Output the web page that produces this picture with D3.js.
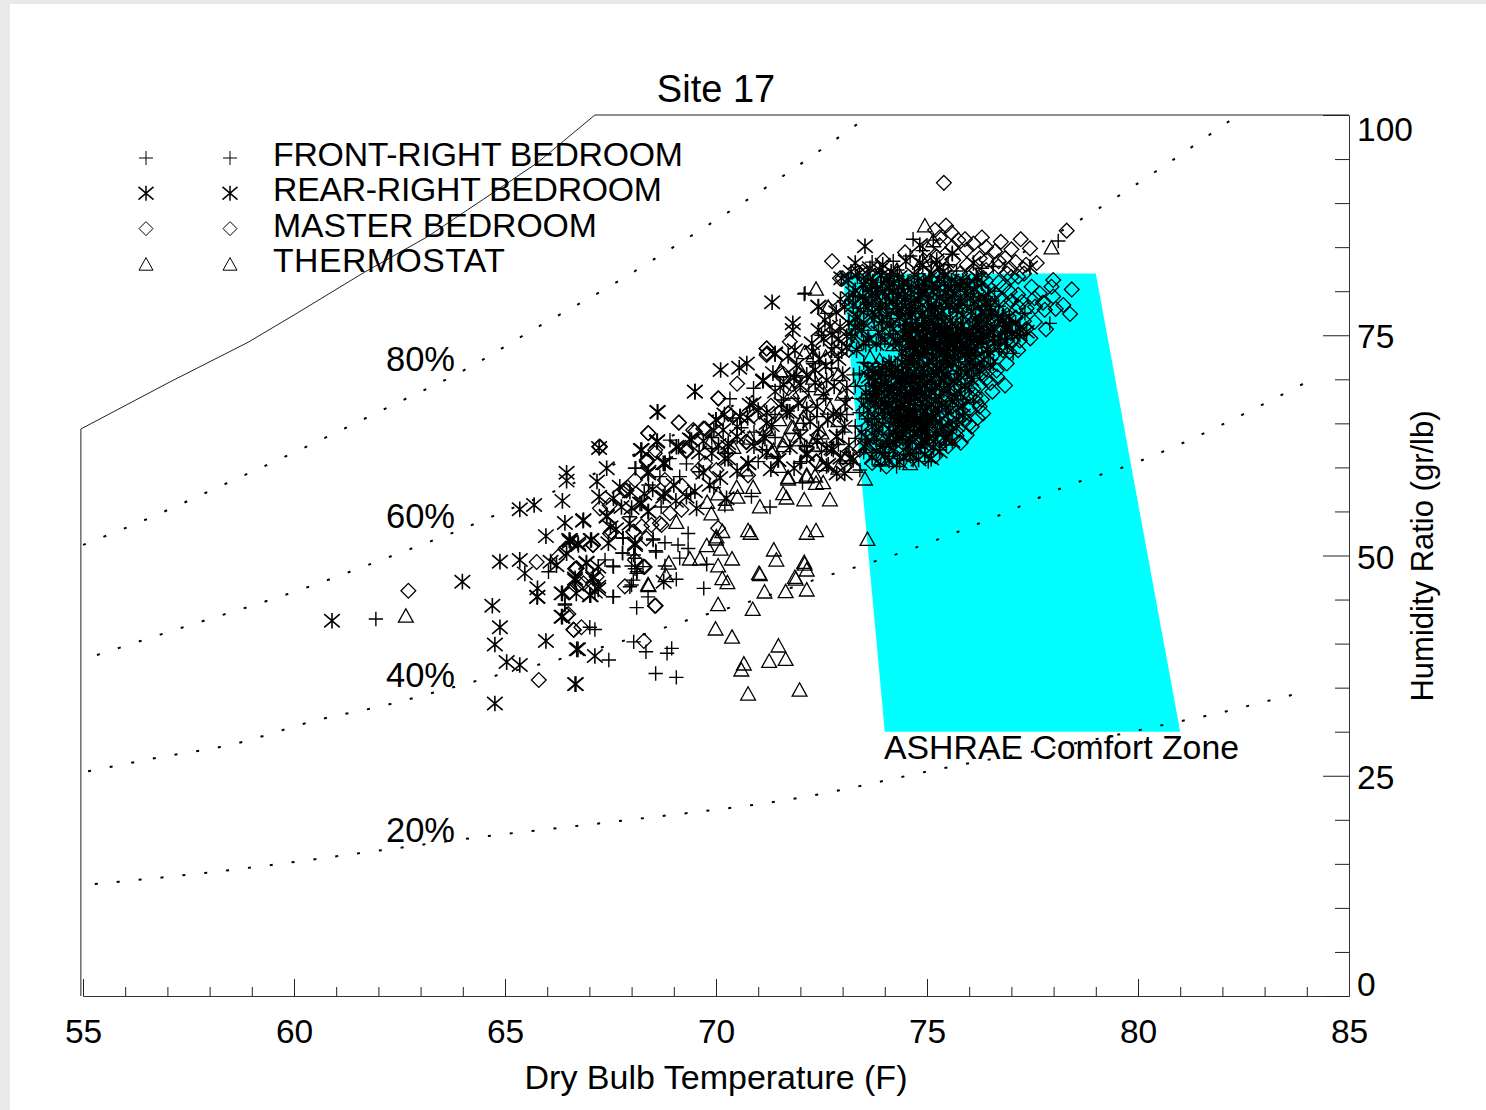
<!DOCTYPE html>
<html>
<head>
<meta charset="utf-8">
<script src="https://cdnjs.cloudflare.com/ajax/libs/d3/7.8.5/d3.min.js"></script>
<style>
body { margin: 0; background: #e9e9e9; }
svg { display: block; }
text { font-family: "Liberation Sans", Arial, sans-serif; fill: #000; }
</style>
</head>
<body>
<script>
// chart values
const xMajorTicks = [55, 60, 65, 70, 75, 80, 85];
const xMinorTicks = [56, 57, 58, 59, 61, 62, 63, 64, 66, 67, 68, 69, 71, 72, 73, 74, 76, 77, 78, 79, 81, 82, 83, 84];
const yMajorTicks = [0, 25, 50, 75, 100];
const yMinorTicks = [5, 10, 15, 20, 30, 35, 40, 45, 55, 60, 65, 70, 80, 85, 90, 95];

const legendLabels = ["FRONT-RIGHT BEDROOM", "REAR-RIGHT BEDROOM", "MASTER BEDROOM", "THERMOSTAT"];

const comfortZone = [[73, 82], [79, 82], [81, 30], [74, 30]];

const saturationLine = [[54.95, 0], [54.95, 64.36], [57.06, 69.7], [58.91, 74.2], [60, 77.3], [61.64, 82.07],
  [63.15, 86.15], [64.46, 90.35], [65.76, 94.55], [67.13, 100], [85, 100]];

const rh80 = [[55, 51.2], [56.35, 53.8], [58.36, 58.1], [60.43, 62.66], [62.39, 67.2], [63.86, 70.6], [65.73, 75.8],
  [67.6, 80.9], [69.45, 86.4], [71.52, 92.85], [73.55, 99.66]];
const rh60 = [[55.33, 38.7], [57.01, 41.3], [60.14, 46.1], [62.68, 50.6], [63.67, 52.4], [65.19, 55.4], [66.23, 57.4],
  [69.62, 65.15], [73.18, 73.78], [75.78, 80.48], [78.74, 88.42], [82.37, 100]];
const rh40 = [[55.12, 25.5], [56.82, 27.1], [58.48, 28.5], [60.62, 31.4], [62.16, 33], [63.2, 34.3], [64.81, 36.4],
  [66.42, 38.4], [68, 40.6], [69.55, 43], [70.62, 44.5], [72.7, 47.8], [73.74, 49.3], [76.73, 54.6], [78.27, 57.8],
  [79.81, 60.3], [83.96, 69.6]];
const rh20 = [[55.28, 12.7], [58.13, 14.1], [62.16, 16.6], [64.17, 17.9], [67.96, 20], [71.99, 22.5], [75.54, 26],
  [77.68, 27.9], [79.86, 30], [80.92, 31.1], [81.99, 32.2], [83.08, 33.5], [83.67, 34.2]];

const plusPoints = [[61.94, 42.8], [69.06, 36.17], [68.57, 36.6], [67.46, 38.14], [68.34, 39.08], [68.84, 38.9], [68.95, 39.46],
  [68.05, 40.2], [67.13, 41.6], [67.01, 41.85], [68.12, 44.08], [67.56, 45.3], [66.42, 44.5], [68.39, 45.3], [69.71, 46.27],
  [69.06, 47.3], [67.96, 46.46], [68.04, 47.2], [68.13, 48.16], [68.79, 48.8], [69.78, 49], [68.27, 48.74], [67.56, 48.8],
  [67.37, 49.5], [68, 48.8], [68.05, 50.06], [67.78, 50.3], [68.57, 50.55], [68.79, 51.45], [69.1, 51.2], [69.14, 49.7],
  [69.34, 50.8], [69.34, 52.5], [68.51, 51.76], [67.8, 51.95], [69.95, 57.7], [70.21, 55.7], [70.84, 56.7], [71.28, 55.5],
  [72.05, 58.27], [70.33, 67.8], [68.08, 59.9], [68.91, 63.1], [68.67, 58.95], [69.14, 58.95], [71.99, 60.46], [71, 60.65],
  [72.1, 62.5], [68.1, 59.9], [67.96, 54.4], [67.79, 52], [68.51, 51.87], [68.58, 50.4], [67.79, 50.25], [67.57, 48.73],
  [68.08, 49.68], [68.08, 48.5], [68.12, 47.97], [68, 46.65], [67.57, 45.33], [66.42, 44.38], [66.03, 48.16],
  [72.11, 79.76], [72, 60.65], [72.15, 62.35], [71.52, 69.2], [71.6, 67.65], [70.89, 68.98], [72.07, 65], [72.39, 65.76],
  [73.1, 67.84], [73.26, 70.5], [72.74, 71.25], [72.09, 79.67], [72.03, 60.65], [71.4, 63.4], [70.6, 64.5], [70.2, 61.6],
  [78.11, 85.7], [74.67, 85.9], [75.15, 85.8], [76.57, 82.8], [76.1, 79.4], [74.9, 84.6], [75.6, 84.2],
  [73.35, 81.6], [73.9, 81], [74.3, 82.4], [74.8, 82], [75.3, 81], [75.7, 82.3], [76.3, 82.6],
  [73.3, 79.4], [73.8, 80.4], [74.4, 79.2], [74.95, 80.2], [75.4, 79.3], [76.6, 80],
  [73.5, 77.7], [74.1, 78], [74.6, 77.5], [75.2, 78], [75.7, 77.6], [76.3, 77.9], [76.8, 77.3], [77.32, 77.5], [77.91, 76.35],
  [73.4, 76.2], [73.95, 76.5], [74.45, 76.1], [74.9, 76.4], [75.35, 76], [75.8, 76.4], [76.3, 76], [76.8, 76.1], [77.2, 75],
  [73.6, 74.9], [74.3, 74.7], [74.8, 74.8], [75.3, 74.9], [75.8, 74.6], [76.4, 74.8], [76.9, 74.6],
  [74.5, 73.4], [75, 73.6], [75.5, 73.3], [76, 73.5], [76.5, 73.2], [77.04, 72.94],
  [73.5, 71.9], [74.1, 72], [74.7, 71.9], [75.3, 72.1], [75.9, 72], [76.57, 71.8],
  [73.4, 70.7], [73.9, 70.5], [74.4, 70.8], [75.1, 70.6], [75.7, 70.6], [76.06, 70.1],
  [73.3, 69.2], [73.8, 69.3], [74.3, 69.1], [74.9, 69.4], [75.5, 69.2], [76, 69],
  [73.45, 67.8], [74, 67.9], [74.6, 67.7], [75.2, 67.9], [75.7, 67.7], [76.1, 67.4],
  [73.4, 66.2], [74, 66.1], [74.6, 66.2], [75.3, 66.3], [75.9, 66],
  [73.3, 64.7], [73.8, 64.8], [74.4, 64.6], [75, 64.8], [75.6, 64.6],
  [73.3, 63.3], [73.8, 63.1], [74.35, 63.2], [75, 63.1], [75.46, 62.54], [75.3, 62],
  [73.5, 61.7], [74, 61.7], [74.5, 61.5], [75.03, 60.65], [74.28, 60.1], [74.67, 60.84], [73.41, 59.7], [73.9, 60.3],
  [74.52, 75.3], [74.9, 75.5], [75.18, 75.2], [75.48, 75.6], [75.72, 75], [76, 75.8], [74.7, 74], [75, 74.4], [75.4, 74], [75.7, 74.2],
  [74.6, 72.7], [75.1, 72.9], [75.55, 72.7], [75.95, 72.9], [73.78, 70], [74.1, 70.4], [74.55, 70.3], [74.8, 69.6], [74.05, 68.7],
  [74.4, 68.2], [74.75, 68.5], [73.9, 67], [74.3, 67.4], [74.7, 67.1], [74.15, 65.6], [74.55, 65.2], [74.9, 66], [74.25, 64], [74.7, 64.2],
  [74.5, 62.8], [74.85, 62.2], [73.55, 80.9], [74, 79.7], [74.55, 80.6], [75, 79.4], [75.55, 80.7], [75.95, 78.4], [73.7, 78.3],
  [74.3, 77.4], [74.85, 77.7], [75.4, 77.2], [73.2, 75],
  [72.5, 75], [72.8, 73.6], [72.3, 71.8], [71.9, 70.4], [72.6, 67.8], [72.2, 68.6], [71.7, 66.4], [71.4, 66], [70.9, 64], [70.4, 65.6],
  [69.9, 63.4], [71.1, 62], [72.5, 61.8], [72.9, 62.6], [73, 64], [73.1, 66], [69.6, 59.5], [69.3, 60.4], [68.9, 61], [68.4, 58],
  [68.7, 55.5], [69.4, 57],
  [73.7, 83.3], [74.2, 83.4], [74.6, 84], [75.1, 83.3], [75.5, 83], [76, 81], [76.4, 79], [76.7, 78.3], [76.4, 77.2], [76.9, 75.4],
  [76.5, 75.6], [76.2, 74.2], [76.7, 74], [76.3, 71.5], [76, 71], [75.4, 71.4], [75.8, 69.4], [75.3, 68.8], [75.55, 66.9], [75.2, 65.2],
  [75.45, 64], [74.15, 76.9], [74.65, 76.3], [75.1, 77.1], [75.55, 78], [74.2, 74], [73.55, 73.9], [73.9, 74], [73.65, 68.6], [73.6, 65.5],
  [73.95, 62.4], [74.3, 61], [74.75, 61.6], [75, 64], [74.6, 63.5], [74.1, 63]];

const starPoints = [[60.9, 42.6], [63.99, 47.03], [64.7, 44.3], [64.88, 41.85], [64.76, 39.9], [65.04, 37.9], [65.35, 37.57],
  [64.76, 33.2], [64.88, 49.3], [65.35, 49.5], [65.47, 47.97], [65.35, 55.24], [65.69, 55.73], [66.36, 56.2], [66.46, 59.4],
  [66.46, 58.5], [66.42, 53.7], [65.97, 52.2], [66.46, 50.25], [66.22, 48.9], [65.77, 46.27], [65.76, 45.3], [66.36, 45.7],
  [66.36, 43.06], [65.97, 40.3], [66.7, 39.35], [66.66, 35.4], [66.66, 47.4], [66.54, 51.57], [66.68, 35.4], [67.13, 38.6],
  [66.73, 39.35], [66.34, 43.06], [68.76, 47.03], [67.21, 46.16], [67.03, 45.5], [66.66, 47.2], [67.09, 47.6], [66.93, 49.2],
  [66.73, 51.4], [66.54, 51.76], [66.85, 53.95], [67.03, 51.76], [67.45, 51.4], [68.08, 51.4], [67.63, 52.97], [67.41, 54.5],
  [67.23, 56.68], [67.18, 58.4], [67.41, 59.9], [67.23, 62.2], [69.5, 68.6], [68.61, 66.3], [68.22, 61.97], [68.61, 63],
  [69.06, 62.35], [70, 65.4], [69.38, 63.2], [68.79, 60.46], [68.39, 59.3], [69.7, 59.4], [67.72, 57.8], [67.76, 55.5],
  [68.2, 55.9], [68.39, 55], [68.79, 57.06], [69.3, 56.68], [69.54, 55.35], [70.25, 56.5], [70.21, 61], [70.29, 62.35],
  [70.76, 60.46], [71.47, 60.84], [72.15, 61.4], [72.62, 60.16], [72.86, 59.3], [73.25, 60.84], [73.53, 62.35], [73.05, 59.3],
  [71.67, 66.3], [71.2, 65], [70.8, 67.1], [70.57, 65.76], [71.12, 63.5], [72.86, 63.5], [72.62, 62.2], [72.78, 62],
  [67.05, 51.76], [67.57, 56.5], [67.96, 57.25], [68.24, 55.9], [68.4, 54.98], [68.4, 59.5], [68.75, 60.46], [68.75, 56.68],
  [68.08, 51.2], [66.08, 49.3], [67.21, 48.73], [67.09, 47.4], [67.21, 46.46], [67.13, 45.9], [66.34, 45.7], [66.69, 45.7],
  [67.01, 45.5], [65.77, 45.33], [68.24, 61.97], [66.86, 54.03], [67.41, 54.4], [66.52, 51.76], [66.74, 51.2], [66.93, 49.11],
  [71.33, 78.74], [71.82, 76.36], [71.82, 75.6], [72.43, 78.25], [70.11, 71.06], [70.55, 71.3], [70.73, 71.8], [71.11, 69.8],
  [69.5, 68.6], [68.62, 66.3], [71.4, 72.84], [71.71, 72.65], [71.91, 71.6], [72.35, 71.06], [72.58, 76.73], [72.43, 75.6],
  [72.27, 74.1], [72.74, 73.3], [71.87, 73.3], [72, 69.36], [71.4, 68.6], [70.89, 67.27], [70.57, 65.76], [70, 65.4],
  [70.17, 64.25], [70.06, 62.55], [70.29, 62.74], [69.42, 63.1], [69.11, 62.35], [68.6, 62.9], [68.79, 60.46], [70.29, 61],
  [70.77, 60.46], [71.48, 60.84], [71.16, 63.3], [71.32, 64.8], [71.75, 66.3], [72.23, 65.2], [72.43, 64.4], [72.86, 63.5],
  [72.15, 61.6], [72.74, 62.15], [73.18, 61], [72.66, 60.3], [72.78, 66.1], [73.06, 67.27], [72.62, 69.9], [73.33, 73.3],
  [73.14, 81.27], [73.25, 79.76], [72.94, 75.98], [73.53, 85.1], [72.42, 78.24], [77.44, 82.7], [74.83, 85.24], [74.83, 83.2],
  [73.88, 82.4], [72.97, 81.46], [75.23, 83.54], [76.17, 81.65], [71.12, 69.9], [71.4, 72.95], [75.6, 84.3], [76.1, 83.2],
  [73.3, 83.2], [73.95, 83], [74.5, 83.4], [74.9, 83], [75.3, 82.7],
  [73.6, 81.9], [74.05, 81.2], [74.35, 81.6], [74.7, 81.9], [75.05, 81.4], [75.4, 81.7], [75.85, 81.2], [76.2, 81.5],
  [73.3, 80.1], [73.7, 79.8], [74.1, 80.4], [74.45, 80], [74.8, 80.5], [75.15, 79.9], [75.5, 80.2], [75.9, 79.8],
  [73.25, 78.4], [73.55, 78.9], [73.9, 78.3], [74.2, 78.8], [74.5, 78.3], [74.8, 78.9], [75.1, 78.4], [75.45, 78.8], [75.75, 78.3], [76.1, 78.6], [76.5, 78.2],
  [73.35, 77.1], [73.75, 76.8], [74.05, 77.3], [74.35, 76.9], [74.65, 77.4], [74.95, 76.8], [75.25, 77.2], [75.55, 76.7], [75.85, 77.3], [76.15, 76.9], [76.45, 77.2], [76.8, 76.7], [77.1, 76.4],
  [73.45, 75.6], [73.85, 75.3], [74.2, 75.7], [74.5, 75.3], [74.75, 75.8], [75, 75.4], [75.25, 75.8], [75.5, 75.3], [75.75, 75.7], [76, 75.2], [76.25, 75.6], [76.55, 75.3], [76.85, 75.6], [77.15, 75.1], [77.36, 75.4],
  [73.5, 74.2], [74.35, 74.1], [74.6, 74.4], [74.85, 73.9], [75.1, 74.3], [75.3, 73.8], [75.55, 74.2], [75.8, 73.9], [76.05, 74.3], [76.3, 73.8], [76.6, 74.1], [76.9, 73.7],
  [74.4, 72.9], [74.65, 72.5], [74.9, 73], [75.15, 72.6], [75.4, 73], [75.65, 72.5], [75.9, 72.9], [76.15, 72.5], [76.45, 72.8],
  [73.6, 71.2], [73.95, 71.5], [74.25, 71.1], [74.5, 71.6], [74.75, 71.2], [75, 71.7], [75.25, 71.1], [75.5, 71.5], [75.8, 71.2], [76.1, 71.4],
  [73.7, 70.1], [74, 69.7], [74.25, 70.3], [74.5, 69.8], [74.75, 70.2], [75, 69.7], [75.3, 70.1], [75.65, 69.8],
  [73.55, 68.5], [73.85, 68.9], [74.1, 68.4], [74.35, 68.8], [74.6, 68.3], [74.85, 68.9], [75.1, 68.5], [75.4, 68.8], [75.8, 68.4],
  [73.5, 67.1], [73.85, 66.8], [74.1, 67.3], [74.35, 66.9], [74.6, 67.3], [74.85, 66.8], [75.1, 67.2], [75.45, 66.8], [75.85, 67],
  [73.6, 65.4], [73.95, 65.7], [74.25, 65.3], [74.5, 65.7], [74.75, 65.3], [75, 65.6], [75.3, 65.2], [75.7, 65.5],
  [73.45, 64], [73.85, 64.3], [74.2, 63.9], [74.45, 64.3], [74.7, 63.8], [74.95, 64.2], [75.25, 63.9], [75.6, 64.1],
  [73.55, 62.6], [73.9, 62.3], [74.25, 62.7], [74.55, 62.4], [74.85, 62.7], [75.15, 62.3],
  [73.7, 61.1], [74.1, 60.8], [74.45, 61.2], [74.8, 60.9],
  [74.6, 75.1], [74.9, 74.6], [75.2, 75.1], [75.45, 74.6], [75.7, 75], [75.95, 74.5], [74.7, 73.2], [75.3, 73.3], [75.8, 73.2],
  [73.9, 70.4], [74.15, 69.2], [74.4, 70], [74.65, 69.1], [74.9, 70.6], [73.8, 67.9], [74.2, 68], [74.55, 67.6], [74.85, 68.1],
  [74.4, 65], [74.65, 65.9], [74.9, 64.9], [74.35, 63.5], [74.6, 64.4], [74.85, 63.6], [75.05, 65],
  [74.45, 75.9], [74.55, 74.8], [74.62, 76], [74.72, 74.2], [74.8, 75.2], [74.88, 76.1], [74.98, 74.9], [75.05, 76], [75.12, 73.7],
  [75.18, 74.8], [75.27, 76.1], [75.33, 74.5], [75.41, 75.6], [75.47, 73.6], [75.58, 75.1], [75.63, 73.9], [75.68, 76], [75.72, 74.5],
  [75.88, 75.4], [75.92, 73.6], [76.02, 74.8], [76.08, 75.9], [76.12, 73.4], [76.18, 74.7], [74.5, 72.2], [74.6, 71.8], [74.82, 72.3],
  [75.05, 72.1], [75.22, 72.3], [75.46, 72.1], [75.6, 71.8], [75.75, 72.1], [76.02, 72], [74.68, 73.7], [74.95, 73.4], [75.22, 73.5],
  [75.5, 72.9], [75.72, 73.3], [75.98, 73.1],
  [73.7, 71], [73.78, 69.8], [73.85, 70.9], [73.92, 69.4], [74.03, 70.7], [74.08, 69.1], [74.18, 70.8], [74.2, 68.6], [74.3, 71.3],
  [74.36, 69.6], [74.44, 70.6], [74.48, 68.9], [74.55, 71], [74.62, 69.5], [74.7, 70.8], [74.78, 68.7], [74.83, 69.9], [74.92, 71.2],
  [74.95, 68.4], [73.72, 68.2], [73.78, 67.2], [73.92, 67.7], [73.98, 66.4], [74.08, 67], [74.15, 66.2], [74.28, 67.6], [74.32, 66.3],
  [74.46, 67.1], [74.52, 66.1], [74.68, 66.9], [74.72, 68], [74.9, 67.4], [74.95, 66.3],
  [74.22, 65.7], [74.3, 64.5], [74.35, 65.9], [74.42, 63.4], [74.5, 64.8], [74.55, 65.5], [74.6, 63.2], [74.68, 64.9], [74.72, 66],
  [74.8, 64.3], [74.85, 65.5], [74.9, 63.1], [74.98, 64.7], [75.05, 63.4], [75.1, 65.6], [74.28, 63.1], [74.65, 62.9], [74.95, 62.8],
  [73.4, 82.1], [73.5, 80.8], [73.65, 82.6], [73.72, 81.1], [73.82, 80.2], [73.92, 81.8], [74.02, 79.4], [74.15, 82.2], [74.22, 80.9],
  [74.3, 79.6], [74.4, 78], [74.55, 81], [74.62, 79.3], [74.72, 77.9], [74.88, 79.7], [74.92, 81.1], [75.02, 77.9], [75.12, 80.8],
  [75.22, 78.9], [75.35, 77.8], [75.42, 80.9], [75.6, 79.4], [75.68, 81], [75.8, 78.9], [73.3, 75.9], [73.42, 77.9], [73.5, 76.4],
  [73.62, 74.5], [73.7, 77.6], [73.8, 74], [73.92, 76.6], [74, 74.5], [74.12, 76.1], [74.25, 74.3], [74.3, 77.9],
  [75.15, 70.9], [75.35, 71], [75.45, 70.4], [75.55, 69], [75.2, 69.2], [75.3, 68], [75.6, 67.5], [75.5, 66.2], [75.25, 66.6],
  [75.15, 65.7], [75.35, 64.6], [75.5, 65], [75.2, 63.2], [75.4, 63.4], [75.75, 66.8], [75.95, 70.7],
  [72.95, 79.1], [73.05, 78.2], [72.85, 77.6], [72.7, 76], [72.9, 74.6], [73.1, 74.9], [73.15, 76.4], [72.55, 74.6], [72.75, 75],
  [72.3, 73.1], [72.45, 72.3], [72.6, 71.5], [72.9, 72.3], [73, 70.6], [72.8, 69.2], [73.1, 69], [72.55, 68.3], [72.35, 69.6],
  [72.15, 70.5], [71.85, 70.2], [71.6, 69.4], [71.35, 70.7], [72.95, 66], [72.65, 65.4], [72.4, 66.9], [72.15, 66.6], [71.95, 67.3],
  [71.55, 67.2], [71.2, 66.2], [71, 66.5], [70.75, 65.6], [70.5, 64.6], [70.2, 66], [69.95, 64.2], [69.7, 63], [69.6, 61.7],
  [69.9, 61.6], [70.5, 63.5], [70.9, 62.4], [71.2, 61.7], [71.75, 62.3], [72, 63.5], [72.4, 63], [73.05, 64.6], [73.15, 62.5],
  [72.95, 61.1], [71.85, 59.9], [71.3, 59.8], [70.5, 59.6], [70.1, 58.8], [69.85, 58], [69.5, 57.3], [69.05, 56.2], [69, 58],
  [68.5, 57.5], [68.3, 57], [68, 55.4], [67.95, 53.6], [67.5, 53.2],
  [73.48, 79.4], [73.6, 78.1], [73.68, 80.6], [73.78, 79.1], [73.86, 77.7], [73.95, 80], [74.04, 78.4], [74.12, 81.7], [74.18, 79.9],
  [74.27, 78.2], [74.33, 80.4], [74.42, 81], [74.48, 79.2], [74.57, 77.7], [74.63, 80.2], [74.7, 78.6], [74.77, 81.2], [74.84, 79.4],
  [74.9, 77.5], [74.97, 80.9], [75.04, 79], [75.1, 82], [75.17, 78], [75.24, 80.5], [75.3, 79.2], [75.38, 82.2], [75.44, 79.8],
  [75.52, 78.3], [75.58, 81.2], [75.65, 79.8], [75.72, 77.9], [75.78, 80.8], [75.95, 80.6], [76.03, 79.2], [76.12, 80.2], [76.22, 79],
  [76.3, 80.9], [76.38, 78.7], [76.45, 79.6],
  [76.05, 77.7], [76.2, 76.3], [76.28, 77.6], [76.35, 75], [76.42, 76.4], [76.52, 77.7], [76.6, 75.8], [76.68, 76.9], [76.75, 74.9],
  [76.88, 76], [76.95, 77.1], [77.02, 75.2], [77.2, 75.7], [76.3, 74.5], [76.42, 73.4], [76.58, 74.6], [76.7, 73.6], [76.85, 74.2],
  [76.35, 72.2], [76.5, 71.6], [76.25, 71],
  [74.42, 74.7], [74.5, 76.6], [74.58, 73.9], [74.65, 75.6], [74.73, 76.6], [74.78, 73.1], [74.85, 74.7], [74.92, 75.9], [75, 73.1],
  [75.07, 74.6], [75.15, 76.4], [75.2, 73.9], [75.3, 75.4], [75.38, 73.2], [75.44, 76.2], [75.52, 74.8], [75.6, 76.3], [75.66, 73],
  [75.78, 74.4], [75.84, 76.1], [75.95, 75], [76.05, 73.2], [76.1, 75.1],
  [73.62, 70.3], [73.75, 68.9], [73.65, 67.7], [73.6, 66.5], [73.75, 65.6], [73.7, 64.6], [73.55, 63.4], [73.75, 63.6], [73.95, 64.9],
  [74.1, 64.4], [74.05, 63.1], [73.8, 61.9], [74, 61.4], [74.2, 61.9], [74.35, 60.6], [74.6, 61.5], [74.95, 61.5], [75.1, 61],
  [75.3, 61.8], [75.45, 63.2], [75.6, 63], [75.7, 64.8], [75.85, 65.9], [75.65, 68.2], [75.9, 69.2], [76.05, 70], [75.75, 70.5],
  [74.15, 71.8], [74.4, 71.9], [74.65, 70.1], [74.95, 69.4], [75.1, 70.1], [75.22, 71.6], [75.4, 69.9], [75.05, 68], [75.2, 67.6],
  [75.35, 67.3], [75, 66.7], [75.15, 66.4], [74.5, 68.2], [74.25, 66.7], [74.6, 66.5],
  [73.2, 82.2], [73.15, 79.2], [73.3, 76.8], [73.22, 74.9], [73.1, 73.6], [72.98, 73.2]];

const diamondPoints = [[62.71, 46], [65.75, 49.26], [65.8, 35.87], [66.46, 43.25], [66.62, 41.6], [66.66, 48.5], [66.54, 45.9],
  [69.12, 65.1], [70.05, 67.84], [70.29, 66.1], [69.74, 64.4], [69.5, 64.05], [68.39, 63.9], [67.25, 62.35], [68.55, 61.6],
  [68.37, 60.84], [69.3, 61.8], [69.58, 59.7], [69.74, 60.46], [70.01, 59.7], [70.71, 62.9], [70.76, 59.1], [72.37, 60.65],
  [68.08, 58.57], [67.88, 57.4], [67.25, 55.35], [67.48, 55.7], [68.67, 53.65], [68.05, 52.7], [68.24, 53.3], [68.35, 51.95],
  [67.52, 52.7], [67.09, 51.2], [66.69, 48.54], [68.31, 48.7], [67.84, 46.5], [66.77, 46.76], [66.54, 45.9], [68.57, 44.3],
  [66.63, 41.55], [66.81, 41.85], [68.29, 40.3], [68.91, 54.8], [69.18, 55.2], [70.05, 53.1], [68.79, 58.57], [69.2, 57.9],
  [66.7, 48.54], [67.84, 57.4], [68.36, 60.84], [68.04, 52.7], [68.47, 53.46], [68.71, 53.46], [67.49, 52.5], [67.08, 51.2],
  [66.44, 50.8], [66.26, 49.87], [68.08, 49.5], [68.28, 48.73], [68.55, 44.3], [66.5, 43.36], [66.86, 46.84], [67.17, 47.6],
  [67.23, 62.35], [70.06, 67.84], [69.12, 65.08], [71.2, 73.5], [71.2, 72.76], [68.4, 63.87], [69.46, 64.25], [69.7, 64.4],
  [70.29, 66.14], [70.73, 62.9], [71.75, 74.27], [72.66, 78.06], [73, 81.46], [72.39, 60.65], [71.87, 69.9], [71.71, 69],
  [72, 68.2], [69.3, 61.98], [68.36, 60.65], [68.56, 61.98], [70.5, 69.5], [70.9, 65.9], [71.3, 67], [71.6, 70.6],
  [75.4, 92.3], [78.31, 86.87], [75.45, 87.44], [75.58, 86.64], [75.74, 85.8], [76.1, 85.4], [75.19, 86.95], [74.48, 84.4],
  [73.96, 83.5], [72.75, 83.4], [73.47, 82.2], [77.44, 84.86], [77.22, 85.9], [76.61, 84.5], [77, 84.75], [76.25, 83.73],
  [75.94, 84.7], [76.85, 83.73], [76.41, 83.54], [76.69, 82.8], [76.96, 82.6], [77.16, 81.65], [77.99, 81.27], [77.48, 80.5],
  [78.43, 80.2], [77.67, 79.76], [77.95, 80.5], [77.99, 79.4], [77.16, 79.6], [76.96, 79.94], [76.81, 80.5], [76.61, 79.76],
  [78.23, 78.43], [78.39, 77.41], [77.79, 77.9], [77.56, 78.24], [77.36, 78.05], [77.16, 78.24], [76.89, 78.43], [77.82, 75.67],
  [77.45, 74.65], [77.16, 73.3], [76.89, 71.8], [76.66, 70.3], [76.85, 69.3], [76.55, 68.6], [76.29, 70.67], [76.02, 68],
  [76.17, 67.46], [76.33, 66.13], [76.06, 64.62], [75.94, 63.67], [76.25, 66.9], [75.94, 72.2], [76.8, 73.3], [75.94, 77.5],
  [71.2, 73.5], [71.21, 72.95], [74.04, 60.1], [72.38, 60.65], [72.94, 81.46], [73.84, 81.27], [75.78, 82], [75.42, 82.4],
  [75.62, 83.5], [75.23, 83.9], [73.6, 80.6], [74.2, 79.4], [74.9, 79.2], [75.3, 80.6], [75.7, 79.1], [76.2, 80], [76.4, 81.2],
  [76.7, 81], [75.95, 83], [76.05, 82.1], [76.9, 82], [77.1, 83.3], [77.35, 83], [76.4, 85], [75.9, 85.9], [75.3, 85.2],
  [75, 84.8], [76.7, 83.4], [76.3, 78.9], [76.55, 78.1], [76.2, 77.4], [76.6, 76.9], [76.9, 77.3], [77.1, 77], [77.3, 76.6],
  [77.55, 76.5], [77, 75.9], [76.7, 75.5], [76.45, 75], [76.75, 74.6], [77, 74.4], [76.3, 73.6], [76.6, 72.9], [76.2, 72.4],
  [76.45, 71.9], [75.85, 71], [76.2, 71.2], [75.6, 70.4], [75.95, 69.9], [75.6, 69], [75.9, 68.6], [76.1, 68.9], [75.4, 67.8],
  [75.8, 67.5], [76, 66.6], [75.6, 65.8], [75.9, 65.3], [75.5, 64.4], [75.7, 63.6], [75.3, 63], [75, 61.9], [74.7, 62.2],
  [74.4, 66.3], [74, 75], [74.6, 73], [75.1, 76.6], [75.5, 75], [74.3, 69], [73.8, 67.5], [74.6, 64.9], [74, 63], [73.4, 62], [73.7, 60.5],
  [76, 80.6], [76.35, 80.2], [76.5, 79.2], [76.75, 79], [77, 78.9], [77.25, 78.8], [77.55, 79.2], [77.75, 78.7], [78.05, 78],
  [76.25, 76.1], [76.55, 76.3], [76.85, 76.4], [77.35, 75.7], [77.2, 74.4], [76.95, 73.1], [76.65, 71], [76.4, 70], [76.5, 69.6],
  [76.25, 69.3], [76.15, 68.1], [76.3, 67.7], [76, 64.9], [76.2, 65.6], [75.8, 62.8], [75.5, 62.4], [75.2, 61.3], [76.3, 86.1],
  [76.75, 85.6], [75.6, 85], [75.3, 86.1], [77.3, 82], [77.6, 83.2], [77, 81.6], [76.4, 82.4]];

const trianglePoints = [[62.65, 43.2], [73.59, 51.9], [70.76, 34.35], [71.98, 34.8], [70.6, 37.08], [70.66, 37.76], [71.26, 38.06],
  [71.65, 38.29], [71.48, 39.8], [70.38, 40.8], [69.99, 41.73], [70.87, 43.96], [70.05, 44.5], [71.15, 45.93], [71.65, 45.97],
  [72.15, 46.16], [70.27, 47], [70.15, 47.45], [71.02, 48.05], [71.04, 47.9], [71.87, 47.6], [71.89, 47.4], [72.15, 48.43],
  [72.09, 49.3], [72.1, 49.1], [70.05, 48.9], [70.38, 49.68], [71.43, 49.56], [71.37, 50.7], [69.38, 49.68], [69.62, 49.68],
  [70.11, 50.8], [69.78, 51.2], [70, 51.95], [70.01, 52.2], [68.88, 49.2], [68.39, 46.76], [68.81, 47.8], [70.15, 52.8],
  [70.76, 52.9], [70.82, 52.6], [72.15, 52.6], [72.37, 52.9], [69.06, 53.84], [69.89, 54.8], [69.79, 56.1], [71.04, 55.6],
  [72.09, 56.4], [72.7, 56.4], [71.67, 56.6], [71.59, 57.1], [70.51, 56.7], [70.49, 57.8], [70.88, 57.8], [70.05, 57.06],
  [70.23, 55.9], [71.71, 58.76], [72.15, 59], [72.37, 58.27], [72.54, 58.34], [73.53, 58.76], [68.4, 46.65],
  [72.37, 80.3], [71.53, 71.06], [72.31, 72.76], [72.1, 73.1], [71.79, 64.63], [71.32, 61.8], [71.6, 62.55], [69.86, 62.9],
  [70.41, 62.35], [71.5, 60.2], [70.7, 59.8], [74.95, 87.5], [77.95, 85], [75.15, 85.8], [72.66, 78.25], [71.53, 71],
  [71.71, 58.95], [72.15, 59.2], [72.35, 59.1], [74.89, 83.54], [74.28, 82.4], [73.65, 79.76], [73.41, 78.8], [73.65, 72.56],
  [73.88, 72.2], [71.83, 64.6], [71.63, 63.1], [71.36, 62], [73.09, 61.2], [72.07, 65.75], [72.38, 63.5],
  [72, 65], [72.5, 64], [72.9, 65.4], [71.9, 63.2], [72.3, 62.6], [71.2, 64.4], [70.8, 63.4], [71.5, 65.5], [72.7, 66.8],
  [72.2, 67.6], [71.8, 68.6], [72.5, 69], [72.9, 70.6], [73, 68.4], [72.3, 70.2], [72, 71], [72.6, 72.6],
  [73.5, 80], [74, 80.8], [74.6, 79.6], [75.2, 82.4], [73.9, 78], [74.4, 76.9], [73.65, 76.3], [73.3, 74], [73.5, 70],
  [73.7, 66.3], [73.9, 63.4], [73.3, 60.2], [73.1, 61.5], [72.9, 60], [72.5, 60.4], [74.2, 74], [74.8, 71], [75.2, 69.6],
  [74.5, 66.8], [74.9, 67.8], [75.5, 72.4], [75.2, 77.6], [74.1, 62], [74.6, 60.5],
  [73.8, 79.2], [74.3, 81.4], [74.85, 80.6], [75.3, 79], [75.8, 80.2], [74.1, 75.9], [74.7, 75], [75.3, 75.6], [75.75, 74], [76.3, 76],
  [74.05, 71.2], [74.5, 69.2], [75, 70.4], [75.5, 70.2], [73.9, 68], [74.35, 65.5], [74.85, 65], [75.3, 64.4], [73.6, 62.4], [73.9, 60.9]];

// custom d3 symbol types, "size" is used as the half width in pixels
const symPlus = {
  draw(ctx, r) {
    ctx.moveTo(-r, 0); ctx.lineTo(r, 0);
    ctx.moveTo(0, -r); ctx.lineTo(0, r);
  }
};
const symStar = {
  draw(ctx, r) {
    const dx = r, dy = r * 0.85;
    ctx.moveTo(0, -r); ctx.lineTo(0, r);
    ctx.moveTo(-dx, -dy); ctx.lineTo(dx, dy);
    ctx.moveTo(-dx, dy); ctx.lineTo(dx, -dy);
  }
};
const symDiamond = {
  draw(ctx, r) {
    ctx.moveTo(0, -r); ctx.lineTo(r, 0); ctx.lineTo(0, r); ctx.lineTo(-r, 0); ctx.closePath();
  }
};
const symTriangle = {
  draw(ctx, r) {
    ctx.moveTo(0, -r * 0.9); ctx.lineTo(r, r * 0.9); ctx.lineTo(-r, r * 0.9); ctx.closePath();
  }
};

const legendSymbols = [symPlus, symStar, symDiamond, symTriangle];
const legendWidths = [410, 389, 324, 232];

const width = 1486, height = 1110;
const fontSize = 33.5;

const svg = d3.select("body").append("svg").attr("width", width).attr("height", height);

// page: light grey edge on the left and top
svg.append("rect").attr("x", 0).attr("y", 0).attr("width", width).attr("height", height).attr("fill", "#e9e9e9");
svg.append("rect").attr("x", 10).attr("y", 4).attr("width", width - 10).attr("height", height - 4).attr("fill", "#fff");

const xScale = d3.scaleLinear().domain([55, 85]).range([83, 1349]);
const yScale = d3.scaleLinear().domain([0, 100]).range([996, 115]);

const line = d3.line().x(d => xScale(d[0])).y(d => yScale(d[1]));
const dotted = d3.line().x(d => xScale(d[0])).y(d => yScale(d[1])).curve(d3.curveMonotoneX);

// comfort zone
svg.append("path")
   .attr("d", line(comfortZone) + "Z")
   .attr("fill", "#00ffff");

// relative humidity curves
[rh80, rh60, rh40, rh20].forEach(rh => {
  svg.append("path")
     .attr("d", dotted(rh))
     .attr("fill", "none")
     .attr("stroke", "#000")
     .attr("stroke-width", 2)
     .attr("stroke-dasharray", "3 19");
});

// saturation line + frame
svg.append("path")
   .attr("d", line(saturationLine))
   .attr("fill", "none")
   .attr("stroke", "#222")
   .attr("stroke-width", 1);

// axes
const xAxisMajor = d3.axisBottom(xScale).tickValues(xMajorTicks).tickSizeInner(-17).tickSizeOuter(0).tickPadding(23).tickFormat(d3.format("d"));
const xAxisMinor = d3.axisBottom(xScale).tickValues(xMinorTicks).tickSizeInner(-9).tickSizeOuter(0).tickFormat("");
const yAxisMajor = d3.axisRight(yScale).tickValues(yMajorTicks).tickSizeInner(-26).tickSizeOuter(0).tickPadding(8).tickFormat(d3.format("d"));
const yAxisMinor = d3.axisRight(yScale).tickValues(yMinorTicks).tickSizeInner(-14).tickSizeOuter(0).tickFormat("");

const gx = svg.append("g").attr("transform", "translate(0,996)");
gx.append("g").call(xAxisMinor);
gx.append("g").call(xAxisMajor);
const gy = svg.append("g").attr("transform", "translate(1349,0)");
gy.append("g").call(yAxisMinor);
gy.append("g").call(yAxisMajor);

svg.selectAll(".tick text").style("font-size", fontSize + "px").style("font-family", '"Liberation Sans", Arial, sans-serif');
svg.selectAll(".domain").attr("stroke", "#333");
svg.selectAll(".tick line").attr("stroke", "#222");
// first and last y labels are pushed inside the axis range
gy.selectAll(".tick text").attr("y", d => d === 100 ? 15 : d === 0 ? -11 : 2);

// data marks
const drawMarks = (points, type, size, strokeWidth) => {
  const symbol = d3.symbol().type(type).size(size);
  svg.append("g")
     .selectAll("path")
     .data(points)
     .enter()
     .append("path")
     .attr("d", symbol())
     .attr("transform", d => `translate(${xScale(d[0])},${yScale(d[1])})`)
     .attr("fill", "none")
     .attr("stroke", "#000")
     .attr("stroke-width", strokeWidth);
};
drawMarks(plusPoints, symPlus, 7.2, 1.4);
drawMarks(starPoints, symStar, 7.8, 1.6);
drawMarks(diamondPoints, symDiamond, 7.4, 1.3);
drawMarks(trianglePoints, symTriangle, 7.4, 1.3);

// legend
const legend = svg.append("g");
legendLabels.forEach((label, i) => {
  const rowY = 158 + i * 35.3;
  [146, 230].forEach(sx => {
    legend.append("path")
          .attr("d", d3.symbol().type(legendSymbols[i]).size(i === 1 ? 7.5 : 7)())
          .attr("transform", `translate(${sx},${rowY})`)
          .attr("fill", "none")
          .attr("stroke", "#000")
          .attr("stroke-width", i === 1 ? 1.5 : 1);
  });
  legend.append("text")
        .attr("x", 273)
        .attr("y", rowY + 8)
        .attr("textLength", legendWidths[i])
        .style("font-size", "33.8px")
        .text(label);
});

// titles and labels
const addText = (txt, x, y, size, anchor) => svg.append("text")
  .attr("x", x).attr("y", y).attr("text-anchor", anchor || "start")
  .style("font-size", size + "px").text(txt);

addText("Site 17", 716, 102, 38, "middle");
addText("Dry Bulb Temperature (F)", 716, 1089, 34, "middle");
addText("80%", 386, 371, 34.5);
addText("60%", 386, 528, 34.5);
addText("40%", 386, 687, 34.5);
addText("20%", 386, 842, 34.5);
addText("ASHRAE Comfort Zone", 884, 759, 33.8);

svg.append("text")
   .attr("transform", "translate(1433,556) rotate(-90)")
   .attr("text-anchor", "middle")
   .style("font-size", "31px")
   .text("Humidity Ratio (gr/lb)");
</script>
</body>
</html>
